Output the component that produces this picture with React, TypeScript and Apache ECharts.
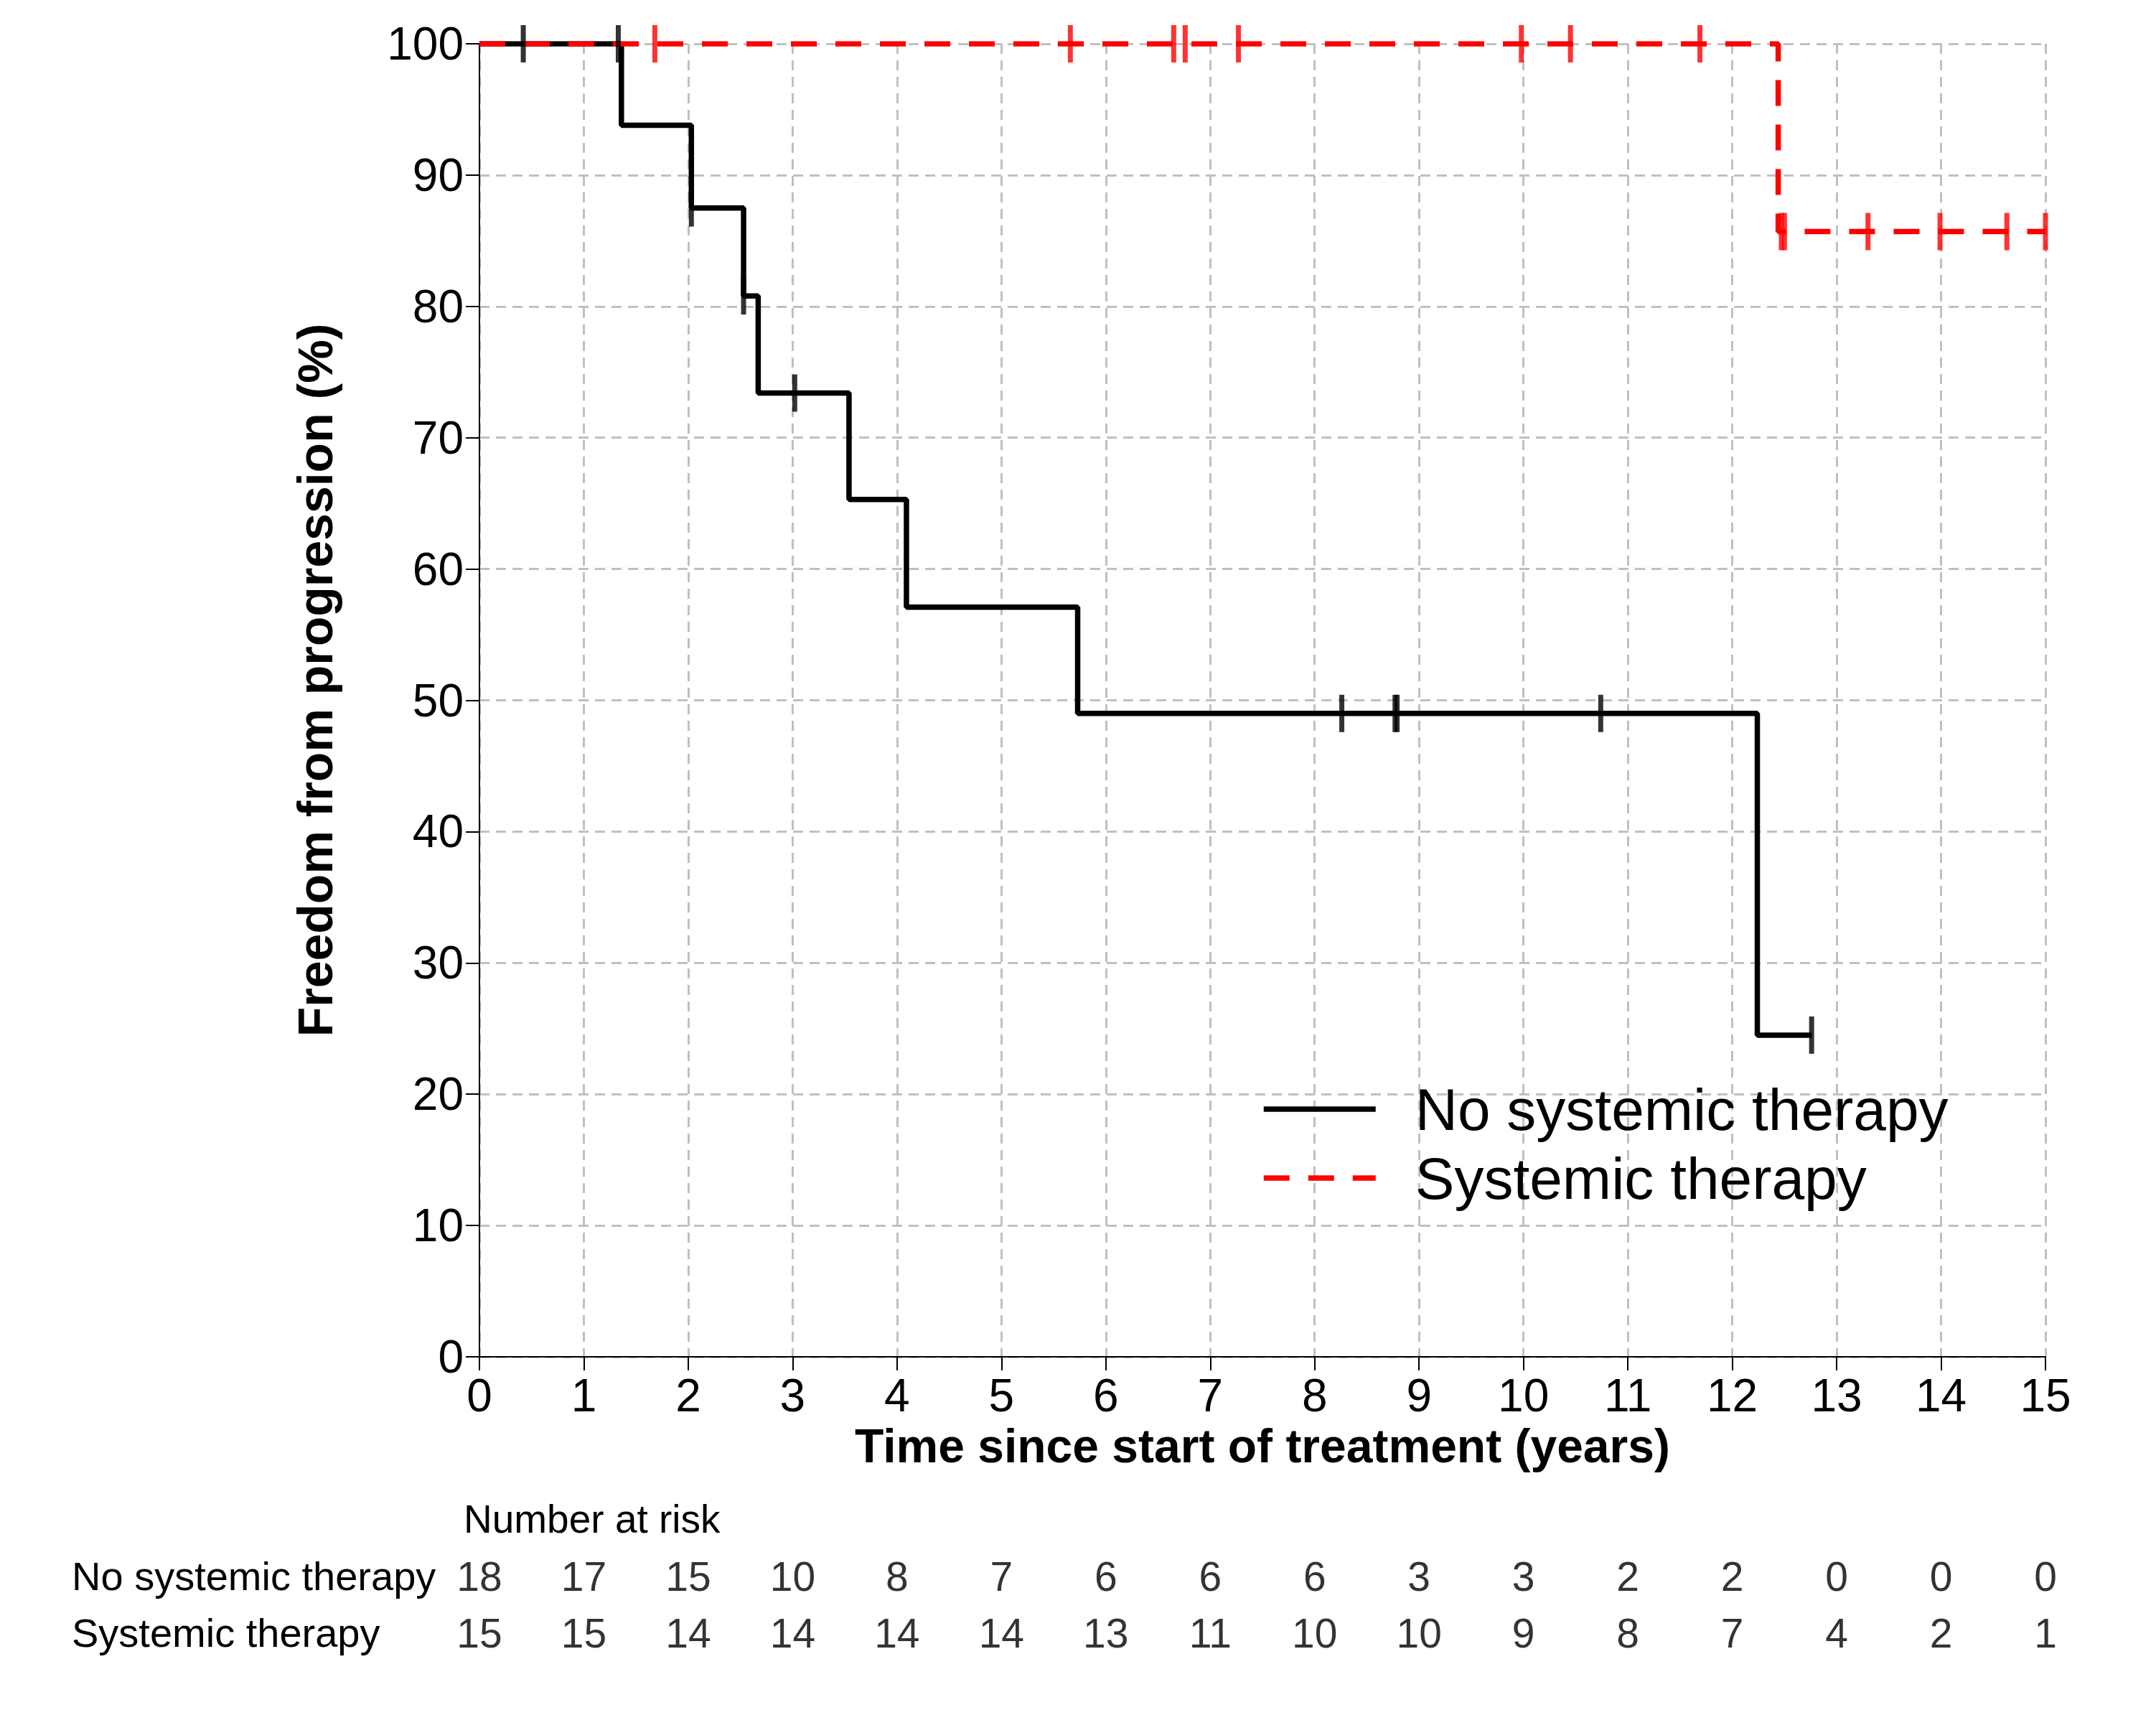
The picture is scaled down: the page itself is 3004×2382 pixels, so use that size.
import React, { useEffect, useRef } from 'react';
import * as echarts from 'echarts';

const FONT = '"Liberation Sans", Arial, Helvetica, sans-serif';

const groupNames = ['No systemic therapy', 'Systemic therapy'];

// Kaplan-Meier steps: [years, freedom from progression %]
const noSystemicCurve = [
  [0, 100],
  [1.36, 93.8],
  [2.03, 87.5],
  [2.53, 80.8],
  [2.67, 73.4],
  [3.54, 65.3],
  [4.09, 57.1],
  [5.73, 49.0],
  [12.24, 24.5],
  [12.76, 24.5],
];
const systemicCurve = [
  [0, 100],
  [12.44, 85.7],
  [15, 85.7],
];

// censored observations (tick marks)
const noSystemicCensored = [
  [0.42, 100],
  [1.33, 100],
  [2.03, 87.5],
  [2.53, 80.8],
  [3.02, 73.4],
  [8.26, 49.0],
  [8.77, 49.0],
  [8.79, 49.0],
  [10.74, 49.0],
  [12.76, 24.5],
];
const systemicCensored = [
  [1.68, 100],
  [5.66, 100],
  [6.65, 100],
  [6.76, 100],
  [7.27, 100],
  [9.98, 100],
  [10.45, 100],
  [11.69, 100],
  [12.47, 85.7],
  [12.5, 85.7],
  [13.3, 85.7],
  [13.99, 85.7],
  [14.63, 85.7],
  [15.0, 85.7],
];

// number at risk table
const riskYears = [0, 1, 2, 3, 4, 5, 6, 7, 8, 9, 10, 11, 12, 13, 14, 15];
const noSystemicAtRisk = [18, 17, 15, 10, 8, 7, 6, 6, 6, 3, 3, 2, 2, 0, 0, 0];
const systemicAtRisk = [15, 15, 14, 14, 14, 14, 13, 11, 10, 10, 9, 8, 7, 4, 2, 1];

const GRID_LEFT = 668;
const GRID_WIDTH = 2182;
const CURVE_WIDTH = 7.5;

const gridLine = { color: '#c0c0c0', width: 3, type: [14, 9] };

const App: React.FC = () => {
  const chartRef = useRef<HTMLDivElement | null>(null);

  useEffect(() => {
    if (!chartRef.current) return;
    const chart = echarts.init(chartRef.current, undefined, { renderer: 'svg' });

    const riskRow = (name: string, values: number[]) => ({
      type: 'scatter',
      name: name + ' at risk',
      xAxisIndex: 1,
      yAxisIndex: 1,
      symbolSize: 0,
      silent: true,
      data: riskYears.map((yr, i) => [yr, name, values[i]]),
      label: {
        show: true,
        position: 'inside',
        formatter: (p: any) => String(p.value[2]),
        fontSize: 57,
        fontFamily: FONT,
        color: '#000',
      },
    });

    chart.setOption({
      animation: false,
      backgroundColor: '#fff',
      textStyle: { fontFamily: FONT, color: '#000' },
      title: {
        text: 'Number at risk',
        left: 646,
        top: 2088,
        padding: 0,
        textStyle: { fontSize: 55, fontWeight: 'normal', fontFamily: FONT, color: '#000' },
      },
      legend: {
        orient: 'vertical',
        left: 1757,
        top: 1504,
        padding: 0,
        itemWidth: 156,
        itemHeight: 20,
        itemGap: 14,
        data: groupNames,
        itemStyle: { opacity: 0, borderWidth: 0 },
        lineStyle: { width: CURVE_WIDTH },
        textStyle: {
          fontSize: 82,
          lineHeight: 82,
          fontFamily: FONT,
          color: '#000',
          padding: [0, 0, 0, 50],
        },
      },
      grid: [
        { left: GRID_LEFT, top: 61, width: GRID_WIDTH, height: 1829 },
        { left: GRID_LEFT, top: 2156, width: GRID_WIDTH, height: 158 },
      ],
      xAxis: [
        {
          type: 'value',
          gridIndex: 0,
          min: 0,
          max: 15,
          interval: 1,
          name: 'Time since start of treatment (years)',
          nameLocation: 'middle',
          nameGap: 76,
          nameTextStyle: { fontSize: 66, fontWeight: 'bold', fontFamily: FONT, color: '#000' },
          axisLine: { lineStyle: { color: '#000', width: 2 } },
          axisTick: { show: true, length: 19, lineStyle: { color: '#000', width: 2 } },
          axisLabel: { fontSize: 64, margin: 22, color: '#000', fontFamily: FONT },
          splitLine: { show: true, lineStyle: gridLine },
        },
        {
          type: 'value',
          gridIndex: 1,
          min: 0,
          max: 15,
          show: false,
        },
      ],
      yAxis: [
        {
          type: 'value',
          gridIndex: 0,
          min: 0,
          max: 100,
          interval: 10,
          name: 'Freedom from progression (%)',
          nameLocation: 'middle',
          nameGap: 195,
          nameTextStyle: {
            fontSize: 68,
            fontWeight: 'bold',
            fontFamily: FONT,
            color: '#000',
            padding: [0, 0, 0, 56],
          },
          axisLine: { show: true, lineStyle: { color: '#000', width: 2 } },
          axisTick: { show: true, length: 19, lineStyle: { color: '#000', width: 2 } },
          axisLabel: { fontSize: 64, margin: 22, color: '#000', fontFamily: FONT },
          splitLine: { show: true, lineStyle: gridLine },
        },
        {
          type: 'category',
          gridIndex: 1,
          inverse: true,
          data: groupNames,
          axisLine: { show: false },
          axisTick: { show: false },
          splitLine: { show: false },
          axisLabel: {
            show: true,
            align: 'left',
            margin: GRID_LEFT - 100,
            fontSize: 56,
            fontFamily: FONT,
            color: '#000',
          },
        },
      ],
      series: [
        {
          type: 'line',
          name: groupNames[0],
          step: 'end',
          symbol: 'none',
          z: 3,
          data: noSystemicCurve,
          lineStyle: { color: '#000', width: CURVE_WIDTH },
          itemStyle: { color: '#000' },
        },
        {
          type: 'line',
          name: groupNames[1],
          step: 'end',
          symbol: 'none',
          z: 4,
          data: systemicCurve,
          lineStyle: { color: '#ff0000', width: CURVE_WIDTH, type: [36, 26] },
          itemStyle: { color: '#ff0000' },
        },
        {
          type: 'scatter',
          name: 'No systemic therapy censored',
          symbol: 'rect',
          symbolSize: [7, 52],
          clip: false,
          z: 5,
          data: noSystemicCensored,
          itemStyle: { color: '#000' },
        },
        {
          type: 'scatter',
          name: 'Systemic therapy censored',
          symbol: 'rect',
          symbolSize: [7, 52],
          clip: false,
          z: 5,
          data: systemicCensored,
          itemStyle: { color: '#ff0000' },
        },
        riskRow(groupNames[0], noSystemicAtRisk),
        riskRow(groupNames[1], systemicAtRisk),
      ],
    });

    return () => {
      chart.dispose();
    };
  }, []);

  return (
    <div
      ref={chartRef}
      style={{ position: 'absolute', left: 0, top: 0, width: '3004px', height: '2382px' }}
    />
  );
};

export default App;
